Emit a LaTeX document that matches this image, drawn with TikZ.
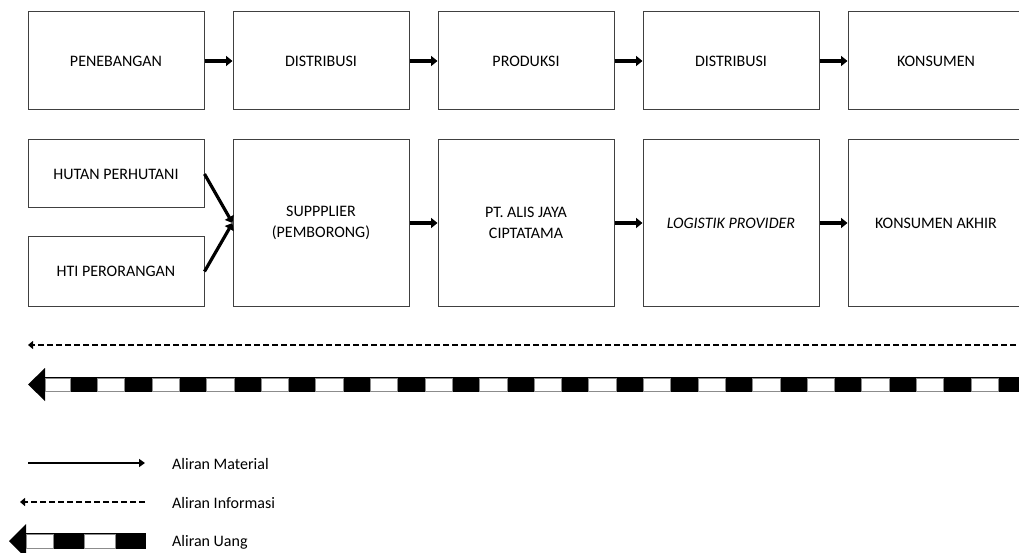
\documentclass[tikz,border=0pt]{standalone}
\usepackage{fontspec}
\setmainfont{Carlito}
\usetikzlibrary{arrows.meta}
\begin{document}
\begin{tikzpicture}[x=1pt,y=-1pt,
  box/.style={draw=black!75,line width=1pt,minimum width=176pt,align=center,
    font=\fontsize{16}{20.5}\selectfont,inner sep=2pt},
  toprow/.style={box,minimum height=98pt},
  bigbox/.style={box,minimum height=166pt},
  material/.style={line width=3.2pt,-{Triangle[length=6.5pt,width=10pt]}},
  legmaterial/.style={line width=2.2pt,-{Triangle[length=6pt,width=8pt]}},
  info/.style={line width=2.2pt,dash pattern=on 6pt off 3pt,-{Triangle[length=5pt,width=8pt]}},
  legtext/.style={anchor=west,font=\fontsize{16}{20}\selectfont,inner sep=0pt},
  whiteseg/.style={fill=white,draw=black!45,line width=0.6pt},
  blackseg/.style={fill=black,draw=black,line width=0.4pt}
]
\useasboundingbox (0,0) rectangle (1019,553);
% top row
\node[toprow] (t1) at (116,61) {PENEBANGAN};
\node[toprow] (t2) at (321,61) {DISTRIBUSI};
\node[toprow] (t3) at (526,61) {PRODUKSI};
\node[toprow] (t4) at (731,61) {DISTRIBUSI};
\node[toprow] (t5) at (936,61) {KONSUMEN};
\foreach \a/\b in {t1/t2,t2/t3,t3/t4,t4/t5}
  \draw[material] (\a.east) -- (\b.west);
% second row
\node[box,minimum height=68pt] (hutan) at (116,174) {HUTAN PERHUTANI};
\node[box,minimum height=69pt] (hti) at (116,271.5) {HTI PERORANGAN};
\node[bigbox] (sup) at (321,223) {SUPPPLIER\\(PEMBORONG)};
\node[bigbox] (pt) at (526,223) {PT. ALIS JAYA\\CIPTATAMA};
\node[bigbox] (log) at (731,223) {\itshape LOGISTIK PROVIDER};
\node[bigbox] (kon) at (936,223) {KONSUMEN AKHIR};
\draw[material] (hutan.east) -- (sup.west);
\draw[material] (hti.east) -- (sup.west);
\foreach \a/\b in {sup/pt,pt/log,log/kon}
  \draw[material] (\a.east) -- (\b.west);
% information flow
\coordinate (infoR) at (1025,345);
\coordinate (infoL) at (28,345);
\draw[info] (infoR) -- (infoL);
% money flow
\coordinate (moneyTip) at (28,384.5);
\fill[black] (moneyTip) -- (45,368) -- (45,401) -- cycle;
\draw[blackseg] (45,377.5) rectangle (1030,391.5);
\draw[whiteseg] (45,378) rectangle (70,391);
\foreach \k in {0,...,17}{
  \pgfmathsetmacro{\xa}{70+27.3+54.6*\k}
  \pgfmathsetmacro{\xb}{70+54.6*(\k+1)}
  \draw[whiteseg] (\xa,378) rectangle (\xb,391);
}
% legend
\coordinate (l1a) at (28,463);
\coordinate (l1b) at (145,463);
\draw[legmaterial] (l1a) -- (l1b);
\node[legtext] (lt1) at (172,464) {Aliran Material};
\coordinate (l2a) at (145,502);
\coordinate (l2b) at (20,502);
\draw[info] (l2a) -- (l2b);
\node[legtext] (lt2) at (172,503) {Aliran Informasi};
\coordinate (l3tip) at (9,541);
\fill[black] (l3tip) -- (26,524) -- (26,558) -- cycle;
\draw[blackseg] (26,533.5) rectangle (145,548.5);
\draw[whiteseg] (26,534) rectangle (53,548);
\draw[whiteseg] (84,534) rectangle (115,548);
\node[legtext] (lt3) at (172,542) {Aliran Uang};
\end{tikzpicture}
\end{document}
